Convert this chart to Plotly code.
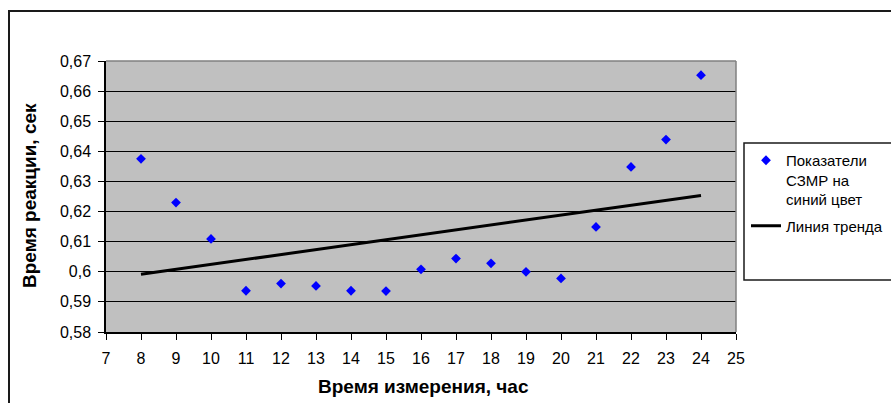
import numpy as np
import plotly.graph_objects as go

# Hour of measurement and mean reaction time (s) to the blue colour stimulus
hours = [8, 9, 10, 11, 12, 13, 14, 15, 16, 17, 18, 19, 20, 21, 22, 23, 24]
reaction = [0.6375, 0.6230, 0.6109, 0.5937, 0.5961, 0.5953, 0.5937, 0.5936,
            0.6008, 0.6044, 0.6028, 0.6000, 0.5978, 0.6149, 0.6348, 0.6439, 0.6653]

y_ticks = [0.58, 0.59, 0.60, 0.61, 0.62, 0.63, 0.64, 0.65, 0.66, 0.67]
y_tick_text = ["0,58", "0,59", "0,6", "0,61", "0,62", "0,63", "0,64", "0,65", "0,66", "0,67"]
x_ticks = list(range(7, 26))

series_name = "Показатели<br>СЗМР на<br>синий цвет"
trend_name = "Линия тренда"
x_title = "Время измерения, час"
y_title = "Время реакции, сек"

# linear least-squares trend through the measurements
slope, intercept = np.polyfit(hours, reaction, 1)
trend_x = [hours[0], hours[-1]]
trend_y = [slope * h + intercept for h in trend_x]

FONT = "Liberation Sans, Arial, sans-serif"

W, H = 891, 403
ML, MR, MT, MB = 106, 155, 61, 71
PW, PH = W - ML - MR, H - MT - MB


def px(x):
    return (x - ML) / PW


def py(y):
    return 1 - (y - MT) / PH


fig = go.Figure()
fig.add_trace(go.Scatter(
    x=hours, y=reaction, mode="markers", name=series_name, legendgroup="data",
    marker=dict(symbol="diamond", size=7.5, color="#0000ff", line=dict(width=0)),
))
fig.add_trace(go.Scatter(
    x=trend_x, y=trend_y, mode="lines", name=trend_name, legendgroup="trend",
    line=dict(color="black", width=3),
))

shapes = [
    # outer chart frame
    dict(type="rect", xref="paper", yref="paper",
         x0=px(9), x1=px(905), y0=py(420), y1=py(11),
         line=dict(color="#1a1a1a", width=2), fillcolor="rgba(0,0,0,0)"),
    # legend frame
    dict(type="rect", xref="paper", yref="paper",
         x0=px(744), x1=px(905), y0=py(280), y1=py(143),
         line=dict(color="#1a1a1a", width=1.5), fillcolor="white", layer="below"),
    # plot-area border on the top and right
    dict(type="line", xref="paper", yref="paper", x0=0, x1=1, y0=1, y1=1,
         line=dict(color="#808080", width=1.5)),
    dict(type="line", xref="paper", yref="paper", x0=1, x1=1, y0=0, y1=1,
         line=dict(color="#808080", width=1.5)),
]

annotations = [
    dict(text=f"<b>{x_title}</b>", xref="paper", yref="paper",
         x=px(423), y=py(386), xanchor="center", yanchor="middle",
         showarrow=False, font=dict(family=FONT, size=19, color="black")),
    dict(text=f"<b>{y_title}</b>", xref="paper", yref="paper",
         x=px(29), y=py(196), xanchor="center", yanchor="middle", textangle=-90,
         showarrow=False, font=dict(family=FONT, size=19, color="black")),
]

fig.update_layout(
    width=W, height=H,
    margin=dict(l=ML, r=MR, t=MT, b=MB, pad=0, autoexpand=False),
    paper_bgcolor="white", plot_bgcolor="#c0c0c0",
    font=dict(family=FONT, size=16, color="black"),
    shapes=shapes, annotations=annotations,
    showlegend=True,
    legend=dict(x=px(746), y=py(144), xanchor="left", yanchor="top",
                bgcolor="rgba(0,0,0,0)", borderwidth=0, valign="top",
                font=dict(family=FONT, size=15, color="black"),
                tracegroupgap=4, itemwidth=30),
)

fig.update_xaxes(
    range=[7, 25], tickvals=x_ticks, ticks="outside", ticklen=6, tickwidth=1,
    tickcolor="black", showline=True, linecolor="black", linewidth=1.5,
    showgrid=False, zeroline=False, tickfont=dict(family=FONT, size=16),
    ticklabelstandoff=5,
)
fig.update_yaxes(
    range=[0.58, 0.67], tickvals=y_ticks, ticktext=y_tick_text,
    ticks="outside", ticklen=6, tickwidth=1, tickcolor="black",
    showline=True, linecolor="black", linewidth=1.5,
    showgrid=True, gridcolor="black", gridwidth=1.3,
    zeroline=False, tickfont=dict(family=FONT, size=16), ticklabelstandoff=4,
)

fig.write_html("out.html")
